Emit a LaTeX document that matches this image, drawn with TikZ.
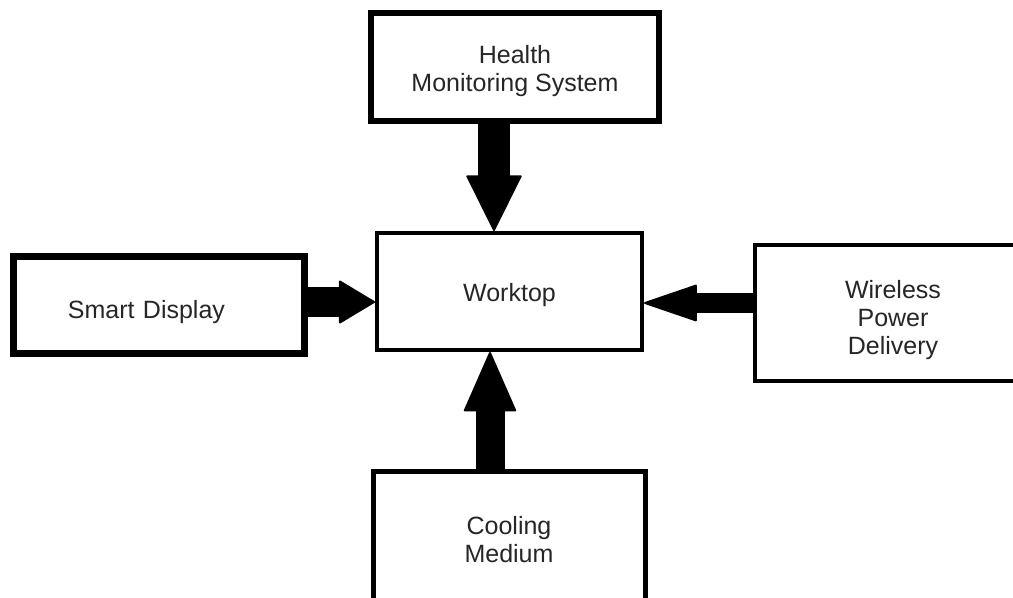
\documentclass[tikz,border=0pt]{standalone}
\usepackage{fontspec}
\setmainfont{Liberation Sans}
\usetikzlibrary{arrows.meta,positioning,calc}
\tikzset{box/.style={rectangle, draw=black, fill=white, text=black!85, inner sep=0pt, align=center, font=\fontsize{12.5}{14}\selectfont},
	fatarrow/.style n args={3}{line width=#1, -{Triangle[width=#2,length=#3,round,line width=1pt]}}}

\begin{document}
\begin{tikzpicture}[x=0.5pt,y=-0.5pt]
		\useasboundingbox (0,0) rectangle (1013,598);
		\node[box, line width=3pt, minimum width=144pt, minimum height=54pt, text height=27pt] (health) at (515,67) {Health\\ Monitoring System};
		\node[box, line width=2pt, minimum width=132.5pt, minimum height=58.5pt, text height=13pt] (worktop) at (509.5,291.5) {Worktop};
		\node[box, line width=3.5pt, minimum width=145.25pt, minimum height=48.5pt, text height=16pt, text width=90.75pt, align=left] (smart) at (158.75,305.5) {Smart Display};
		\node[box, line width=2.25pt, minimum width=138pt, minimum height=68pt, text height=44pt] (wireless) at (893,313) {Wireless\\ Power\\ Delivery};
		\node[box, line width=2.5pt, minimum width=136pt, minimum height=68pt] (cooling) at (509,540) {Cooling\\ Medium};
		\draw[fatarrow={16pt}{28pt}{28.5pt}] (health.south -| 494,0) -- (worktop.north -| 494,0);
		\draw[fatarrow={15pt}{22pt}{18.5pt}] (smart.east |- 0,302) -- (worktop.west |- 0,302);
		\draw[fatarrow={10pt}{18.5pt}{27.5pt}] (wireless.west |- 0,303) -- (worktop.east |- 0,303);
		\draw[fatarrow={14.5pt}{26.5pt}{30.5pt}] (cooling.north -| 490,0) -- (worktop.south -| 490,0);
\end{tikzpicture}
\end{document}
